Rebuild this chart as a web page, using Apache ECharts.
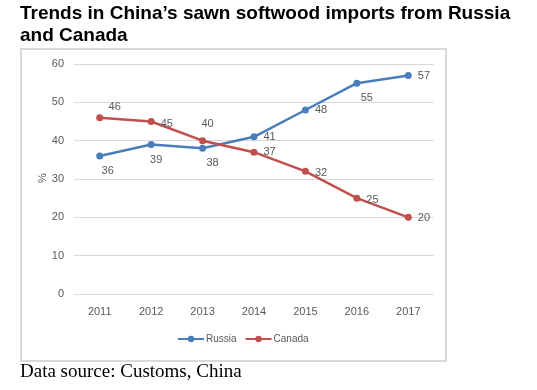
<!DOCTYPE html>
<html><head><meta charset="utf-8">
<script src="https://cdn.jsdelivr.net/npm/echarts@6/dist/echarts.min.js"></script>
<style>html,body{margin:0;padding:0;background:#fff;}#c{width:537px;height:390px;}</style>
</head><body><div id="c"></div>
<script>
const years = ['2011','2012','2013','2014','2015','2016','2017'];
const russia = [36,39,38,41,48,55,57];
const canada = [46,45,40,37,32,25,20];
const russiaLabelPos = ['bottom','bottom','bottom','right','right','bottom','right'];
const russiaLabelOff = [[8,0],[5,0],[10,0],[0,0],[0,0],[10,0],[0,0]];
const canadaLabelPos = ['top','right','top','right','right','right','right'];
const canadaLabelOff = [[15,4],[0,2],[5,-2],[0,0],[0,2],[0,2],[0,1]];
const yTicks = [0,10,20,30,40,50,60];

const chart = echarts.init(document.getElementById('c'));
const lblFont = {color:'#595959', fontSize:11, fontFamily:'Liberation Sans Narrow, Liberation Sans, sans-serif'};
function mk(vals, pos, off){
  return vals.map((v,i)=>({value:v, label:{position:pos[i], distance:6, offset:off[i]}}));
}
chart.setOption({
  animation:false,
  graphic:[
    {type:'rect', shape:{x:21,y:49,width:425,height:312}, style:{fill:'#fff', stroke:'#d9d9d9', lineWidth:2}, z:-10},
    {type:'text', left:20, top:3, style:{text:'Trends in China\u2019s sawn softwood imports from Russia\nand Canada', font:'bold 19px Liberation Sans, Arial, sans-serif', fill:'#000', lineHeight:22}},
    {type:'text', left:20, top:363, style:{text:'Data source: Customs, China', font:'19px Liberation Serif, Times New Roman, serif', fill:'#000'}},
    {type:'text', x:43, y:178, rotation:Math.PI/2, style:{text:'%', font:'11px Liberation Sans, sans-serif', fill:'#595959', align:'center', verticalAlign:'middle'}}
  ],
  grid:{left:74, right:103, top:64, bottom:96, containLabel:false},
  legend:{
    bottom:41, left:172, itemWidth:26, itemHeight:8, itemGap:8,
    textStyle:Object.assign({}, lblFont, {fontSize:10, padding:[0,0,0,-3]}),
    data:['Russia','Canada']
  },
  xAxis:{
    type:'category', data:years, boundaryGap:true,
    axisLine:{show:false}, axisTick:{show:false},
    axisLabel:Object.assign({margin:12}, lblFont, {fontSize:11})
  },
  yAxis:{
    type:'value', min:0, max:60, interval:10,
    axisLine:{show:false}, axisTick:{show:false},
    axisLabel:Object.assign({margin:10}, lblFont, {fontSize:11}),
    splitLine:{lineStyle:{color:'#d9d9d9', width:1}}
  },
  series:[
    {name:'Russia', type:'line', data:mk(russia, russiaLabelPos, russiaLabelOff), color:'#4a7ebb',
     symbol:'circle', symbolSize:7, lineStyle:{width:2.5, color:'#4a7ebb'}, itemStyle:{color:'#4a7ebb'},
     label:Object.assign({show:true}, lblFont)},
    {name:'Canada', type:'line', data:mk(canada, canadaLabelPos, canadaLabelOff), color:'#c0504d',
     symbol:'circle', symbolSize:7, lineStyle:{width:2.5, color:'#c0504d'}, itemStyle:{color:'#c0504d'},
     label:Object.assign({show:true}, lblFont)}
  ]
});
</script></body></html>
